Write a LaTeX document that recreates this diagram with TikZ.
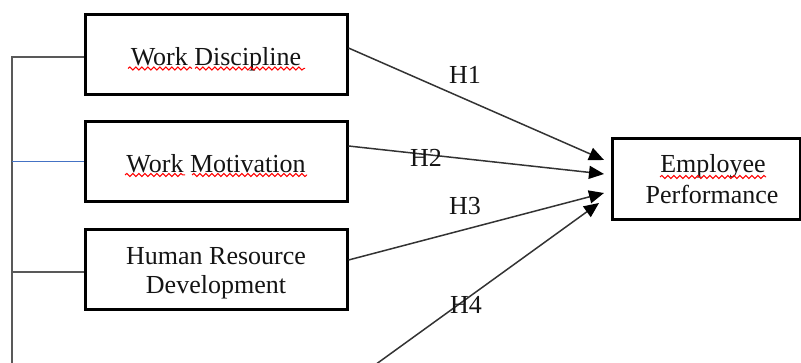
\documentclass[tikz,border=0pt]{standalone}
\usepackage{fontspec}
\setmainfont{Liberation Serif}
\usetikzlibrary{arrows.meta,decorations.pathmorphing}
\definecolor{wordblue}{HTML}{4472C4}
\begin{document}
\begin{tikzpicture}[x=0.5pt,y=-0.5pt,
  box/.style={draw=black, line width=1.5pt, minimum width=131pt, minimum height=40pt, inner sep=0pt},
  txt/.style={font=\fontsize{13}{14.5}\selectfont, inner sep=0pt, text=black!92},
  conn/.style={draw=black!80, line width=0.75pt, -{Triangle[length=7.5pt,width=6.5pt,color=black]}},
  side/.style={draw=black!65, line width=0.75pt},
  sideblue/.style={draw=wordblue, line width=0.7pt},
  wavy/.style={draw=red, line width=0.5pt, decorate, decoration={snake, segment length=3pt, amplitude=0.8pt}}]
\useasboundingbox (0,0) rectangle (801,363);
% boxes
\node[box] (b1) at (216,55) {};
\node[box] (b2) at (216,161.5) {};
\node[box] (b3) at (216,269) {};
\node[box, minimum width=94pt] (b4) at (706,179) {};
% texts
\node[txt, anchor=base] (t1) at (216,66) {Work Discipline};
\node[txt, anchor=base] (t2) at (216,172) {Work Motivation};
\node[txt, anchor=base] (t3a) at (216,264) {Human Resource};
\node[txt, anchor=base] (t3b) at (216,293) {Development};
\node[txt, anchor=base] (t4a) at (713,173) {Employee};
\node[txt, anchor=base] (t4b) at (712,203) {Performance};
% spell-check squiggles
\draw[wavy] (128,68.5) -- (192,68.5);
\draw[wavy] (195,68.5) -- (305,68.5);
\draw[wavy] (125,175) -- (185,175);
\draw[wavy] (192,175) -- (307,175);
\draw[wavy] (660,177) -- (766,177);
% left bracket
\coordinate (lt) at (12,57);
\coordinate (lb) at (12,366);
\coordinate (l3) at (12,272);
\draw[side] (b1.west |- lt) -- (lt) -- (lb);
\draw[sideblue] (b2.west) -- (b2.west -| lt);
\draw[side] (b3.west |- l3) -- (l3);
% arrow end points
\coordinate (e1) at (604,160);
\coordinate (e2) at (604,174);
\coordinate (e3) at (604,193);
\coordinate (e4) at (599,203);
\coordinate (s4) at (368,370);
\draw[conn] ([yshift=3.5pt]b1.east) -- (e1);
\draw[conn] ([yshift=7.75pt]b2.east) -- (e2);
\draw[conn] ([yshift=4.5pt]b3.east) -- (e3);
\draw[conn] (s4) -- (e4);
% labels
\node[txt] (h1) at (465,75) {H1};
\node[txt] (h2) at (426,158) {H2};
\node[txt] (h3) at (465,206) {H3};
\node[txt] (h4) at (466,305) {H4};
\end{tikzpicture}
\end{document}
